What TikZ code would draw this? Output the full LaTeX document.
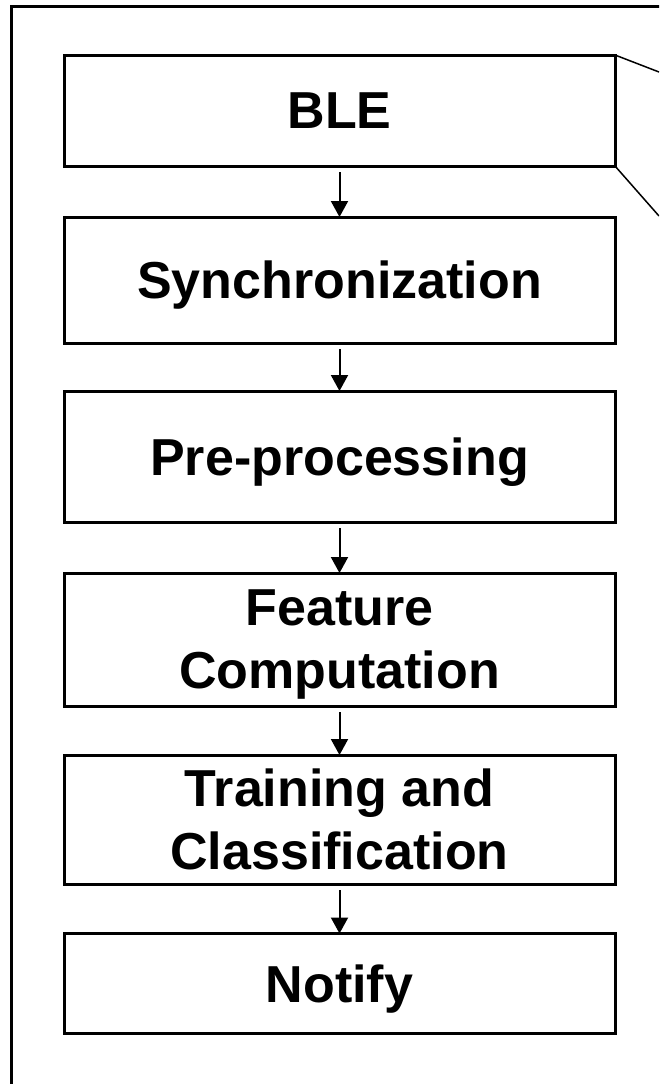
\documentclass[tikz,border=0pt]{standalone}
\usepackage{fontspec}
\setmainfont{Liberation Sans}
\usetikzlibrary{arrows.meta}
\begin{document}
\begin{tikzpicture}[x=1pt,y=-1pt,
  stagebox/.style={draw=black, line width=3pt, fill=white, minimum width=551pt, inner sep=0pt, outer sep=0pt, align=center,
    text depth=0pt, font=\fontsize{52}{63}\selectfont\bfseries},
  flowarrow/.style={line width=2pt, -{Triangle[length=16pt,width=17pt]}},
  thinline/.style={line width=1.5pt}]
\useasboundingbox (0,0) rectangle (659,1084);
\clip (0,0) rectangle (659,1084);
\fill[white] (0,0) rectangle (659,1084);
\draw[line width=3pt] (11,1100) -- (11,6) -- (680,6);
\node[stagebox, minimum height=111pt] (ble) at (339.5,110.5) {BLE};
\node[stagebox, minimum height=126pt] (sync) at (339.5,280) {Synchronization};
\node[stagebox, minimum height=131pt] (pre) at (339.5,456.5) {Pre-processing};
\node[stagebox, minimum height=133pt] (feat) at (339.5,639.5) {Feature\\Computation};
\node[stagebox, minimum height=129pt] (train) at (339.5,819.5) {Training and\\Classification};
\node[stagebox, minimum height=100pt] (notify) at (339.5,983.5) {Notify};
\coordinate (zupper) at (659,72);
\coordinate (zlower) at (659,216);
\draw[thinline] (ble.north east) -- (zupper);
\draw[thinline] (ble.south east) -- (zlower);
\draw[flowarrow] ([yshift=-6pt]ble.south) -- (sync.north);
\draw[flowarrow] ([yshift=-6pt]sync.south) -- (pre.north);
\draw[flowarrow] ([yshift=-6pt]pre.south) -- (feat.north);
\draw[flowarrow] ([yshift=-6pt]feat.south) -- (train.north);
\draw[flowarrow] ([yshift=-6pt]train.south) -- (notify.north);
\end{tikzpicture}
\end{document}
